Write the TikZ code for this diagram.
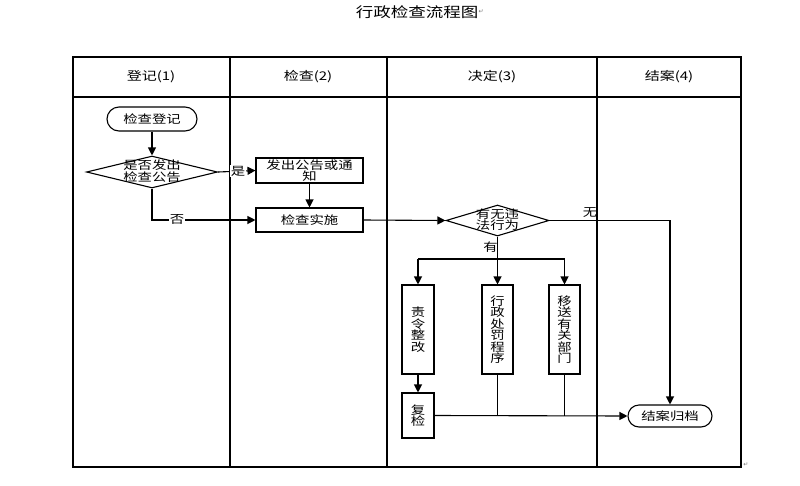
\documentclass[tikz,border=0pt]{standalone}
\usepackage{fontspec}
\newfontfamily\cjk[FakeStretch=1.25]{Noto Sans CJK SC}
\newfontfamily\sym{DejaVu Sans}
\usetikzlibrary{arrows.meta,shapes.geometric}
\tikzset{
  body/.style={font=\cjk\fontsize{11.5}{11.5}\selectfont},
  hdr/.style={font=\cjk\fontsize{12}{14}\selectfont},
  stadium/.style={draw, rounded corners=#1, inner sep=0, body},
  proc/.style={draw, rectangle, inner sep=0, align=center, body},
  dia/.style={draw, diamond, inner sep=0},
  lbl/.style={inner sep=1pt, body},
  grid/.style={line width=1.5pt},
  conn/.style={line width=1.1pt},
  arr/.style={conn, -{Triangle[length=8pt,width=8pt]}},
  retmark/.style={font=\sym\fontsize{6}{6}\selectfont, text=black!55, inner sep=0}
}
\begin{document}
\begin{tikzpicture}[x=1pt,y=-1pt]
\useasboundingbox (0,0) rectangle (800,485);
% title
\node[font=\cjk\fontsize{14}{16}\selectfont, inner sep=0] (title) at (417,12) {行政检查流程图};
\node[retmark, anchor=west] (tmark) at (title.east) {↵};
\node[retmark] (bmark) at (746,465) {↵};
% table
\draw[grid] (73,57) rectangle (741,467);
\draw[grid] (73,97) -- (741,97);
\draw[grid] (230,57) -- (230,467);
\draw[grid] (387,57) -- (387,467);
\draw[grid] (597,57) -- (597,467);
\node[hdr] (h1) at (151,77) {登记(1)};
\node[hdr] (h2) at (308,77) {检查(2)};
\node[hdr] (h3) at (492,77) {决定(3)};
\node[hdr] (h4) at (669,77) {结案(4)};
% nodes
\node[stadium=12pt, minimum width=90pt, minimum height=24pt, line width=1.1pt] (start) at (152,119) {检查登记};
\node[dia, minimum width=131pt, minimum height=32pt, line width=1.1pt] (d1) at (152,172) {};
\node[body, align=center, inner sep=0] (d1t) at (152,171) {是否发出\\检查公告};
\node[proc, minimum width=107pt, minimum height=25pt, line width=1.1pt] (notice) at (309.5,170.5) {发出公告或通\\知};
\node[proc, minimum width=107pt, minimum height=24pt, line width=1.1pt] (inspect) at (309.5,220) {检查实施};
\node[dia, minimum width=103pt, minimum height=31pt, line width=1.1pt] (d2) at (497.5,220.5) {};
\node[body, align=center, inner sep=0] (d2t) at (497.5,219.5) {有无违\\法行为};
\node[proc, minimum width=32pt, minimum height=89pt, line width=1.1pt] (b1) at (418,329.5) {责\\令\\整\\改};
\node[proc, minimum width=31pt, minimum height=89pt, line width=1.1pt] (b2) at (497.5,329.5) {行\\政\\处\\罚\\程\\序};
\node[proc, minimum width=31pt, minimum height=89pt, line width=1.1pt] (b3) at (564.5,329.5) {移\\送\\有\\关\\部\\门};
\node[proc, minimum width=32pt, minimum height=45pt, line width=1.1pt] (recheck) at (418,415.5) {复\\检};
\node[stadium=11pt, minimum width=84pt, minimum height=22pt, line width=1.1pt] (close) at (670,416) {结案归档};
% connectors
\draw[arr] (start) -- (d1);
\draw[arr] (d1.east) -- (notice.west);
\node[lbl, fill=white] (yes) at (238,171) {是};
\draw[arr] (d1.south) |- (inspect.west);
\node[lbl, fill=white] (no) at (177,219) {否};
\draw[arr] (notice) -- (inspect);
\draw[arr] (inspect.east) -- (d2.west);
\draw[arr] (d2.east) -| (close.north);
\node[lbl, anchor=south] (wu) at (590,219) {无};
\coordinate (split) at (497.5,259);
\coordinate (splitL) at (418,259);
\coordinate (splitR) at (564.5,259);
\draw[arr] (d2.south) -- (b2.north);
\node[lbl, anchor=east, inner sep=0] (you) at (498,247) {有};
\draw[conn] (splitL) -- (splitR);
\draw[arr] (splitL) -- (b1.north);
\draw[arr] (splitR) -- (b3.north);
\draw[arr] (b1) -- (recheck);
\draw[arr] (recheck.east) -- (close.west);
\draw[conn] (b2.south) -- (b2.south |- close.west);
\draw[conn] (b3.south) -- (b3.south |- close.west);
\end{tikzpicture}
\end{document}
